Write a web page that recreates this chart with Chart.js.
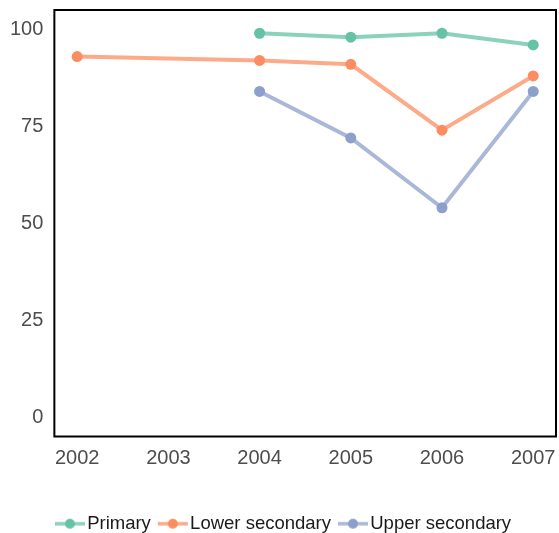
<!DOCTYPE html>
<html>
<head>
<meta charset="utf-8">
<script src="https://cdn.jsdelivr.net/npm/chart.js@4"></script>
<style>
  html, body { margin: 0; padding: 0; background: #fff; }
  #wrap { width: 559px; height: 533px; }
</style>
</head>
<body>
<div id="wrap"><canvas id="canvasDoThi"></canvas></div>
<script>
// Du lieu
var years = [2002, 2003, 2004, 2005, 2006, 2007];
var primary = [null, null, 99, 98, 99, 96];
var lowerSecondary = [93, null, 92, 91, 74, 88];
var upperSecondary = [null, null, 84, 72, 54, 84];
var yTicks = [0, 25, 50, 75, 100];

var seriesNames = ["Primary", "Lower secondary", "Upper secondary"];
var seriesColors = ["#66c2a5", "#fc8d62", "#8da0cb"];
var lineColors = ["rgba(102,194,165,0.75)", "rgba(252,141,98,0.75)", "rgba(141,160,203,0.75)"];

function ToPoints(values) {
    var pts = [];
    for (var i = 0; i < years.length; i++) {
        if (values[i] != null) pts.push({ x: years[i], y: values[i] });
    }
    return pts;
}

// Icon cho legend: doan thang + cham tron (lech phai de sat chu)
function LegendIcon(i) {
    var c = document.createElement('canvas');
    c.width = 42; c.height = 12;
    var g = c.getContext('2d');
    g.strokeStyle = lineColors[i];
    g.lineWidth = 3.5;
    g.beginPath(); g.moveTo(11, 6); g.lineTo(41, 6); g.stroke();
    g.fillStyle = seriesColors[i];
    g.beginPath(); g.arc(26, 6, 5, 0, Math.PI * 2); g.fill();
    return c;
}

var boxPlugin = {
    id: 'boxPlugin',
    afterDraw: function (chart) {
        var a = chart.chartArea, ctx = chart.ctx;
        ctx.save();
        ctx.strokeStyle = '#000';
        ctx.lineWidth = 2;
        ctx.strokeRect(a.left, a.top, a.right - a.left, a.bottom - a.top);
        ctx.restore();
    }
};

function VeDoThi() {
    var all = [primary, lowerSecondary, upperSecondary];
    var datasets = [];
    for (var i = 0; i < all.length; i++) {
        datasets.push({
            label: seriesNames[i],
            data: ToPoints(all[i]),
            borderColor: lineColors[i],
            backgroundColor: seriesColors[i],
            pointBackgroundColor: seriesColors[i],
            pointBorderWidth: 0,
            pointRadius: 5.5,
            borderWidth: 4,
            tension: 0
        });
    }

    new Chart("canvasDoThi", {
        type: "line",
        data: { datasets: datasets },
        plugins: [boxPlugin],
        options: {
            responsive: true,
            maintainAspectRatio: false,
            animation: false,
            layout: { autoPadding: false, padding: { top: 0, right: 3, left: 7, bottom: -10 } },
            scales: {
                x: {
                    type: 'linear',
                    min: 2001.75,
                    max: 2007.25,
                    grid: { display: false },
                    border: { display: false },
                    afterBuildTicks: function (ax) { ax.ticks = years.map(function (v) { return { value: v }; }); },
                    afterFit: function (ax) { ax.height += 38; ax.paddingLeft = 0; ax.paddingRight = 0; },
                    ticks: {
                        color: '#4d4d4d',
                        font: { family: 'Liberation Sans', size: 20 },
                        padding: 2,
                        maxRotation: 0,
                        callback: function (v) { return String(v); }
                    }
                },
                y: {
                    min: -5,
                    max: 105,
                    grid: { display: false },
                    border: { display: false },
                    afterBuildTicks: function (ax) { ax.ticks = yTicks.map(function (v) { return { value: v }; }); },
                    afterFit: function (ax) { ax.paddingTop = 10; ax.paddingBottom = 0; },
                    ticks: {
                        color: '#4d4d4d',
                        font: { family: 'Liberation Sans', size: 20 },
                        padding: 3
                    }
                }
            },
            plugins: {
                legend: {
                    position: 'bottom',
                    labels: {
                        color: '#1a1a1a',
                        font: { family: 'Liberation Sans', size: 18.5 },
                        usePointStyle: true,
                        pointStyleWidth: 26,
                        boxHeight: 12,
                        padding: 4,
                        generateLabels: function (chart) {
                            return chart.data.datasets.map(function (ds, i) {
                                return {
                                    text: ds.label,
                                    pointStyle: LegendIcon(i),
                                    fillStyle: seriesColors[i],
                                    strokeStyle: seriesColors[i],
                                    lineWidth: 0,
                                    fontColor: '#1a1a1a',
                                    datasetIndex: i
                                };
                            });
                        }
                    }
                },
                tooltip: { enabled: false }
            }
        }
    });
}

VeDoThi();
</script>
</body>
</html>
